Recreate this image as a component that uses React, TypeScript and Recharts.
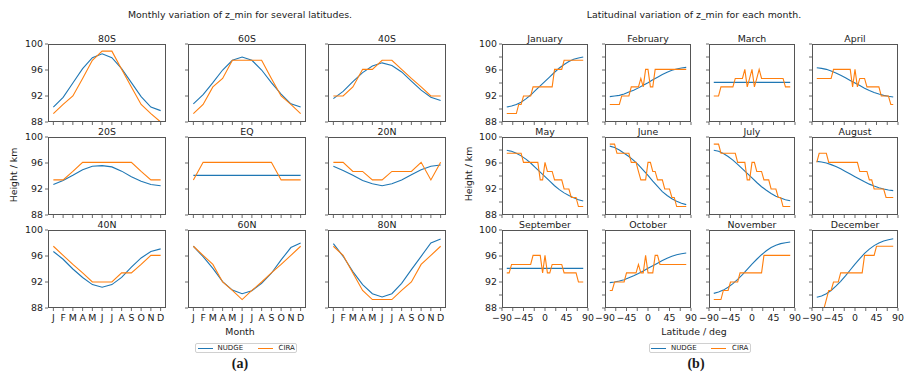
import React from 'react'
import { LineChart, Line, XAxis, YAxis } from 'recharts'

const FONT = '"DejaVu Sans", sans-serif'
const BLUE = '#1f77b4'
const ORANGE = '#ff7f0e'

const MONTH_LETTERS = ['J', 'F', 'M', 'A', 'M', 'J', 'J', 'A', 'S', 'O', 'N', 'D']
const MONTH_NAMES = ['January', 'February', 'March', 'April', 'May', 'June', 'July', 'August', 'September', 'October', 'November', 'December']
const LATITUDE_NAMES = ['80S', '60S', '40S', '20S', 'EQ', '20N', '40N', '60N', '80N']

// (a) monthly values, one row per latitude
const NUDGE_BY_LATITUDE = [
  [90.3, 91.8, 94.0, 96.2, 97.9, 98.5, 97.9, 96.2, 94.05, 91.9, 90.3, 89.75],
  [90.8, 92.2, 94.05, 96.0, 97.5, 98.0, 97.5, 96.0, 94.05, 92.3, 90.8, 90.3],
  [91.6, 92.7, 94.2, 95.6, 96.6, 97.1, 96.7, 95.7, 94.3, 92.9, 91.8, 91.3],
  [92.7, 93.3, 94.1, 94.95, 95.5, 95.6, 95.4, 94.75, 93.9, 93.2, 92.7, 92.5],
  [94.1, 94.1, 94.1, 94.1, 94.1, 94.1, 94.1, 94.1, 94.1, 94.1, 94.1, 94.1],
  [95.5, 94.85, 94.1, 93.3, 92.8, 92.5, 92.8, 93.4, 94.2, 94.95, 95.5, 95.7],
  [96.7, 95.5, 94.0, 92.7, 91.6, 91.2, 91.6, 92.7, 94.3, 95.7, 96.7, 97.1],
  [97.5, 95.9, 94.1, 92.05, 90.75, 90.2, 90.65, 91.8, 93.35, 95.4, 97.3, 98.0],
  [97.9, 95.95, 93.6, 91.6, 90.2, 89.7, 90.2, 91.8, 93.9, 95.95, 98.0, 98.6],
]
const CIRA_BY_LATITUDE = [
  [89.3, 90.7, 92.0, 94.7, 97.5, 98.9, 98.9, 96.1, 93.4, 90.7, 89.3, 88.0],
  [89.3, 90.7, 93.4, 94.7, 97.5, 97.5, 97.5, 97.5, 94.7, 92.0, 90.7, 89.3],
  [92.0, 92.0, 93.4, 96.1, 96.1, 97.5, 97.5, 96.1, 94.7, 93.4, 92.0, 92.0],
  [93.4, 93.4, 94.7, 96.1, 96.1, 96.1, 96.1, 96.1, 96.1, 94.7, 93.4, 93.4],
  [93.4, 96.1, 96.1, 96.1, 96.1, 96.1, 96.1, 96.1, 96.1, 93.4, 93.4, 93.4],
  [96.1, 96.1, 94.7, 94.7, 93.4, 93.4, 94.7, 94.7, 94.7, 96.1, 93.4, 96.1],
  [97.5, 96.1, 94.7, 93.4, 92.0, 92.0, 92.0, 93.4, 93.4, 94.7, 96.1, 96.1],
  [97.5, 96.1, 94.7, 92.0, 90.7, 89.3, 90.7, 92.0, 93.4, 94.7, 96.1, 97.5],
  [97.5, 96.1, 93.4, 90.7, 89.3, 89.3, 89.3, 90.7, 92.0, 94.7, 96.1, 97.5],
]

// (b) latitudinal values, one row per month
const NUDGE_LATS = [-80, -70, -60, -50, -40, -30, -20, -10, 0, 10, 20, 30, 40, 50, 60, 70, 80]
const NUDGE_BY_MONTH = [
  [90.3, 90.45, 90.7, 91.05, 91.55, 92.15, 92.85, 93.55, 94.25, 94.95, 95.65, 96.3, 96.85, 97.3, 97.65, 97.85, 98.0],
  [91.9, 92.0, 92.1, 92.3, 92.6, 92.9, 93.25, 93.65, 94.05, 94.5, 94.9, 95.3, 95.65, 95.95, 96.15, 96.3, 96.4],
  [94.1, 94.1, 94.1, 94.1, 94.1, 94.1, 94.1, 94.1, 94.1, 94.1, 94.1, 94.1, 94.1, 94.1, 94.1, 94.1, 94.1],
  [96.35, 96.25, 96.1, 95.85, 95.55, 95.2, 94.8, 94.4, 94.0, 93.6, 93.2, 92.85, 92.55, 92.3, 92.1, 91.95, 91.85],
  [97.95, 97.8, 97.5, 97.1, 96.6, 96.0, 95.3, 94.6, 93.9, 93.2, 92.5, 91.9, 91.4, 91.0, 90.65, 90.35, 90.15],
  [98.6, 98.4, 98.0, 97.5, 97.0, 96.4, 95.7, 94.9, 94.1, 93.2, 92.4, 91.6, 91.0, 90.5, 90.1, 89.8, 89.6],
  [97.95, 97.8, 97.45, 97.0, 96.45, 95.8, 95.1, 94.4, 93.7, 93.0, 92.35, 91.8, 91.3, 90.9, 90.6, 90.35, 90.2],
  [96.25, 96.15, 96.0, 95.75, 95.45, 95.1, 94.7, 94.3, 93.9, 93.5, 93.1, 92.75, 92.45, 92.2, 92.0, 91.85, 91.75],
  [94.1, 94.1, 94.1, 94.1, 94.1, 94.1, 94.1, 94.1, 94.1, 94.1, 94.1, 94.1, 94.1, 94.1, 94.1, 94.1, 94.1],
  [91.9, 92.0, 92.15, 92.35, 92.65, 92.95, 93.3, 93.7, 94.1, 94.5, 94.9, 95.3, 95.65, 95.95, 96.2, 96.35, 96.45],
  [90.25, 90.45, 90.75, 91.2, 91.75, 92.4, 93.15, 93.95, 94.75, 95.5, 96.2, 96.8, 97.3, 97.65, 97.9, 98.05, 98.15],
  [89.65, 89.85, 90.2, 90.7, 91.35, 92.1, 92.95, 93.85, 94.75, 95.6, 96.4, 97.05, 97.6, 98.0, 98.3, 98.5, 98.65],
]

const CIRA_LATS = [-80, -75, -70, -65, -60, -55, -50, -45, -40, -35, -30, -25, -20, -15, -10, -5, 0, 5, 10, 15, 20, 25, 30, 35, 40, 45, 50, 55, 60, 65, 70, 75, 80]
const CIRA_BY_MONTH = [
  [89.3, 89.3, 89.3, 89.3, 89.3, 90.7, 90.7, 92.0, 92.0, 92.0, 92.0, 93.4, 93.4, 93.4, 93.4, 93.4, 93.4, 93.4, 93.4, 93.4, 96.1, 96.1, 96.1, 96.1, 97.5, 97.5, 97.5, 97.5, 97.5, 97.5, 97.5, 97.5, 97.5],
  [90.7, 90.7, 90.7, 90.7, 90.7, 92.0, 92.0, 92.0, 92.0, 93.4, 93.4, 93.4, 93.4, 94.7, 93.4, 96.1, 96.1, 93.4, 93.4, 96.1, 96.1, 96.1, 96.1, 96.1, 96.1, 96.1, 96.1, 96.1, 96.1, 96.1, 96.1, 96.1, 96.1],
  [92.0, 92.0, 92.0, 93.4, 93.4, 93.4, 93.4, 93.4, 93.4, 94.7, 94.7, 94.7, 94.7, 96.1, 93.4, 94.7, 96.1, 93.4, 94.7, 96.1, 94.7, 94.7, 94.7, 94.7, 94.7, 94.7, 94.7, 94.7, 94.7, 94.7, 93.4, 93.4, 93.4],
  [94.7, 94.7, 94.7, 94.7, 94.7, 94.7, 94.7, 96.1, 96.1, 96.1, 96.1, 96.1, 96.1, 96.1, 96.1, 93.4, 96.1, 93.4, 94.7, 94.7, 94.7, 93.4, 93.4, 93.4, 93.4, 93.4, 93.4, 92.0, 92.0, 92.0, 92.0, 90.7, 90.7],
  [97.5, 97.5, 97.5, 97.5, 97.5, 97.5, 97.5, 96.1, 96.1, 96.1, 96.1, 96.1, 96.1, 96.1, 93.4, 93.4, 96.1, 94.7, 94.7, 94.7, 93.4, 93.4, 93.4, 93.4, 92.0, 92.0, 92.0, 90.7, 90.7, 90.7, 89.3, 89.3, 89.3],
  [98.9, 98.9, 98.9, 97.5, 97.5, 97.5, 97.5, 97.5, 97.5, 96.1, 96.1, 96.1, 94.7, 93.4, 93.4, 93.4, 96.1, 96.1, 94.7, 94.7, 93.4, 93.4, 93.4, 92.0, 92.0, 92.0, 90.7, 90.7, 89.3, 89.3, 89.3, 89.3, 89.3],
  [98.9, 98.9, 98.9, 97.5, 97.5, 97.5, 97.5, 97.5, 97.5, 97.5, 96.1, 96.1, 96.1, 96.1, 93.4, 93.4, 96.1, 96.1, 94.7, 94.7, 94.7, 93.4, 93.4, 93.4, 92.0, 92.0, 92.0, 90.7, 90.7, 89.3, 89.3, 89.3, 89.3],
  [96.1, 97.5, 97.5, 97.5, 97.5, 96.1, 96.1, 96.1, 96.1, 96.1, 96.1, 96.1, 96.1, 96.1, 96.1, 96.1, 96.1, 96.1, 94.7, 94.7, 94.7, 94.7, 93.4, 93.4, 92.0, 92.0, 92.0, 92.0, 92.0, 90.7, 90.7, 90.7, 90.7],
  [93.4, 93.4, 94.7, 94.7, 94.7, 94.7, 94.7, 94.7, 94.7, 94.7, 94.7, 96.1, 96.1, 96.1, 96.1, 93.4, 96.1, 93.4, 93.4, 94.7, 94.7, 94.7, 94.7, 94.7, 93.4, 93.4, 93.4, 93.4, 93.4, 93.4, 92.0, 92.0, 92.0],
  [90.7, 90.7, 92.0, 92.0, 92.0, 92.0, 92.0, 93.4, 93.4, 93.4, 93.4, 93.4, 94.7, 93.4, 93.4, 96.1, 93.4, 93.4, 93.4, 96.1, 96.1, 94.7, 94.7, 94.7, 94.7, 94.7, 94.7, 94.7, 94.7, 94.7, 94.7, 94.7, 94.7],
  [89.3, 89.3, 89.3, 89.3, 90.7, 90.7, 90.7, 92.0, 92.0, 92.0, 92.0, 93.4, 93.4, 93.4, 93.4, 93.4, 93.4, 93.4, 93.4, 93.4, 93.4, 96.1, 96.1, 96.1, 96.1, 96.1, 96.1, 96.1, 96.1, 96.1, 96.1, 96.1, 96.1],
  [86.5, 86.5, 86.5, 87.9, 89.3, 90.7, 90.7, 92.0, 92.0, 92.0, 93.4, 93.4, 93.4, 93.4, 93.4, 93.4, 93.4, 93.4, 93.4, 93.4, 96.1, 96.1, 96.1, 96.1, 96.1, 97.5, 97.5, 97.5, 97.5, 97.5, 97.5, 97.5, 97.5],
]

const MONTH_TICKS = [0, 1, 2, 3, 4, 5, 6, 7, 8, 9, 10, 11]
const LAT_TICKS = [-90, -67.5, -45, -22.5, 0, 22.5, 45, 67.5, 90]
const Y_TICKS_A = [88, 92, 96, 100]
const Y_TICKS_B = [88, 90, 92, 94, 96, 98, 100]

// layout (plot-area boxes, page pixels)
const A_COLS = [48, 188, 328]
const A_WIDTH = 118
const B_COLS = [502, 605, 709, 812]
const B_WIDTH = 86
const ROWS = [44, 137, 230]
const P_HEIGHT = 78

const PAD_L = 36
const PAD_R = 14
const PAD_T = 8
const PAD_B = 22
const FS = 9.4

const fmtLat = (v: number) => (v % 45 === 0 ? (v < 0 ? '\u2212' + Math.abs(v) : String(v)) : '')
const fmtY = (v: number) => (v % 4 === 0 ? String(v) : '')
const blank = () => ''

type PanelProps = {
  left: number
  top: number
  width: number
  title: string
  rows: any[]
  xDomain: [number, number]
  xTicks: number[]
  xFormat: (v: number) => string
  yTicks: number[]
  yFormat: (v: number) => string
}

function Panel({ left, top, width, title, rows, xDomain, xTicks, xFormat, yTicks, yFormat }: PanelProps) {
  const tickStyle = { fontSize: FS, fill: '#1a1a1a', fontFamily: FONT }
  return (
    <div style={{ position: 'absolute', left: left - PAD_L, top: top - PAD_T }}>
      <LineChart
        width={width + PAD_L + PAD_R}
        height={P_HEIGHT + PAD_T + PAD_B}
        data={rows}
        margin={{ top: PAD_T, right: PAD_R, bottom: 0, left: 0 }}
      >
        <XAxis
          type="number"
          dataKey="x"
          domain={xDomain}
          ticks={xTicks}
          interval={0}
          tickFormatter={xFormat}
          height={PAD_B}
          axisLine={false}
          tickLine={{ stroke: '#444', strokeWidth: 0.8 }}
          tickSize={3}
          tickMargin={3}
          tick={tickStyle}
          allowDataOverflow
        />
        <YAxis
          type="number"
          domain={[88, 100]}
          ticks={yTicks}
          interval={0}
          tickFormatter={yFormat}
          width={PAD_L}
          axisLine={false}
          tickLine={{ stroke: '#444', strokeWidth: 0.8 }}
          tickSize={3}
          tickMargin={2}
          tick={tickStyle}
          allowDataOverflow
        />
        <Line type="linear" dataKey="nudge" stroke={BLUE} strokeWidth={1.1} dot={false} connectNulls isAnimationActive={false} />
        <Line type="linear" dataKey="cira" stroke={ORANGE} strokeWidth={1.1} dot={false} connectNulls isAnimationActive={false} />
      </LineChart>
      <div
        style={{
          position: 'absolute',
          left: PAD_L,
          top: PAD_T,
          width,
          height: P_HEIGHT,
          border: '1px solid #555',
          boxSizing: 'border-box',
          pointerEvents: 'none',
        }}
      />
      <div
        style={{
          position: 'absolute',
          left: PAD_L + width / 2,
          top: PAD_T - 6.5,
          transform: 'translate(-50%, -50%)',
          fontSize: FS,
          fontFamily: FONT,
          color: '#1a1a1a',
          whiteSpace: 'nowrap',
        }}
      >
        {title}
      </div>
    </div>
  )
}

function Text({ x, y, children, size = FS, rotate = false, style = {} }: any) {
  return (
    <div
      style={{
        position: 'absolute',
        left: x,
        top: y,
        transform: `translate(-50%, -50%)${rotate ? ' rotate(-90deg)' : ''}`,
        fontSize: size,
        fontFamily: FONT,
        color: '#1a1a1a',
        whiteSpace: 'nowrap',
        lineHeight: 1,
        ...style,
      }}
    >
      {children}
    </div>
  )
}

function LegendBox({ left }: { left: number }) {
  const item = (color: string, label: string, lineX: number, textX: number) => (
    <>
      <div style={{ position: 'absolute', left: lineX, top: 4.5, width: 15, height: 1.2, background: color }} />
      <div style={{ position: 'absolute', left: textX, top: 1.5, fontSize: 7, fontFamily: FONT, color: '#1a1a1a', lineHeight: 1 }}>
        {label}
      </div>
    </>
  )
  return (
    <div
      style={{
        position: 'absolute',
        left,
        top: 342.5,
        width: 102,
        height: 10.5,
        border: '1px solid #d0d0d0',
        borderRadius: 2,
        boxSizing: 'border-box',
        background: '#fff',
      }}
    >
      {item(BLUE, 'NUDGE', 1.5, 21.5)}
      {item(ORANGE, 'CIRA', 61.5, 82.5)}
    </div>
  )
}

export default function App() {
  const aPanels = LATITUDE_NAMES.map((name, k) => {
    const rows = MONTH_TICKS.map((i) => ({ x: i, nudge: NUDGE_BY_LATITUDE[k][i], cira: CIRA_BY_LATITUDE[k][i] }))
    const r = Math.floor(k / 3)
    const c = k % 3
    return (
      <Panel
        key={name}
        left={A_COLS[c]}
        top={ROWS[r]}
        width={A_WIDTH}
        title={name}
        rows={rows}
        xDomain={[-0.55, 11.55]}
        xTicks={MONTH_TICKS}
        xFormat={r === 2 ? (v: number) => MONTH_LETTERS[v] : blank}
        yTicks={Y_TICKS_A}
        yFormat={c === 0 ? (v: number) => String(v) : blank}
      />
    )
  })

  const bPanels = MONTH_NAMES.map((name, m) => {
    const rows = CIRA_LATS.map((lat, i) => {
      const j = NUDGE_LATS.indexOf(lat)
      return { x: lat, cira: CIRA_BY_MONTH[m][i], nudge: j >= 0 ? NUDGE_BY_MONTH[m][j] : null }
    })
    const r = Math.floor(m / 4)
    const c = m % 4
    return (
      <Panel
        key={name}
        left={B_COLS[c]}
        top={ROWS[r]}
        width={B_WIDTH}
        title={name}
        rows={rows}
        xDomain={[-90, 90]}
        xTicks={LAT_TICKS}
        xFormat={r === 2 ? fmtLat : blank}
        yTicks={Y_TICKS_B}
        yFormat={c === 0 ? fmtY : blank}
      />
    )
  })

  return (
    <div style={{ position: 'absolute', left: 0, top: 0, width: 910, height: 373, background: '#fff', overflow: 'hidden' }}>
      <Text x={240} y={14.5}>Monthly variation of z_min for several latitudes.</Text>
      <Text x={694} y={14.5}>Latitudinal variation of z_min for each month.</Text>
      {aPanels}
      {bPanels}
      <Text x={13.5} y={175} rotate>Height / km</Text>
      <Text x={468.5} y={174} rotate>Height / km</Text>
      <Text x={240} y={331.5}>Month</Text>
      <Text x={694} y={331.5}>Latitude / deg</Text>
      <LegendBox left={195} />
      <LegendBox left={648.5} />
      <Text x={240} y={364} size={14} style={{ fontFamily: '"Liberation Serif", serif', fontWeight: 700 }}>(a)</Text>
      <Text x={696} y={364} size={14} style={{ fontFamily: '"Liberation Serif", serif', fontWeight: 700 }}>(b)</Text>
    </div>
  )
}
